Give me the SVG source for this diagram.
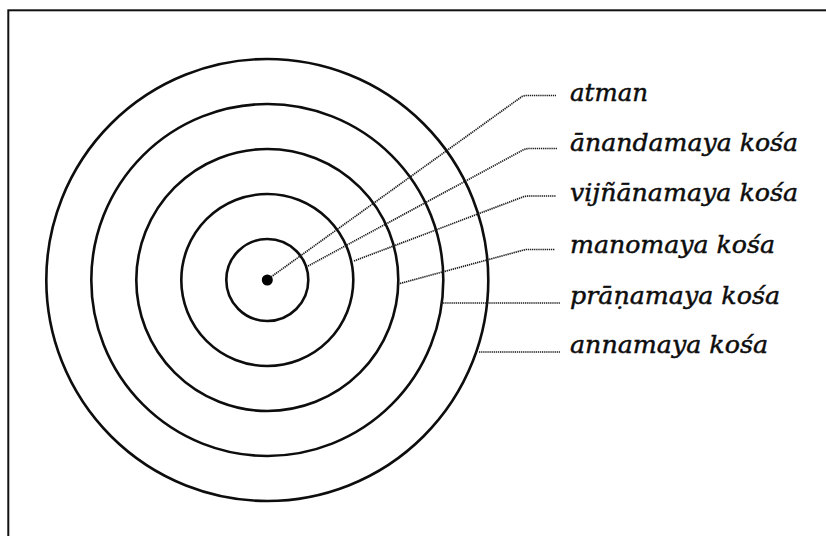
<svg xmlns="http://www.w3.org/2000/svg" width="826" height="536" viewBox="0 0 826 536">
  <style>
    .ring { fill: none; stroke: #0d0d0d; stroke-width: 2.6; }
    .lead { fill: none; stroke: #1a1a1a; stroke-width: 1.7; stroke-dasharray: 1.3 0.8; }
    .lbl { font-family: "DejaVu Serif", "Liberation Serif", serif; font-style: italic; font-size: 24px; fill: #0d0d0d; stroke: #0d0d0d; stroke-width: 0.45; }
  </style>
  <rect x="0" y="0" width="826" height="536" fill="#ffffff"/>
  <rect x="8.3" y="10.3" width="900" height="600" fill="none" stroke="#111" stroke-width="2"/>

  <g id="annamaya"><circle class="ring" cx="267.3" cy="280" r="221"/></g>
  <g id="pranamaya"><circle class="ring" cx="267.3" cy="280" r="176"/></g>
  <g id="vijnanamaya"><circle class="ring" cx="267.3" cy="280" r="131"/></g>
  <g id="manomaya"><circle class="ring" cx="267.3" cy="280" r="86"/></g>
  <g id="anandamaya"><circle class="ring" cx="267.3" cy="280" r="41"/></g>
  <g id="atman"><circle cx="267.3" cy="280" r="5.5" fill="#000"/></g>

  <g id="connectors">
    <path class="lead" d="M271,277 L522,96.5 L525,95.5 L556,95.5"/>
    <path class="lead" d="M308,266 L524,149.5 L528,148.5 L557,148.5"/>
    <path class="lead" d="M354,261 L524,196.5 L528,196 L556,196"/>
    <path class="lead" d="M398,284 L522,250.5 L526,249.5 L555,249.5"/>
    <path class="lead" d="M441,303 L560,303"/>
    <path class="lead" d="M479,352 L560,352"/>
  </g>

  <g id="labels">
    <text class="lbl" x="570" y="101" textLength="78" lengthAdjust="spacingAndGlyphs">atman</text>
    <text class="lbl" x="570" y="151" textLength="228" lengthAdjust="spacingAndGlyphs">ānandamaya kośa</text>
    <text class="lbl" x="570" y="201" textLength="228" lengthAdjust="spacingAndGlyphs">vijñānamaya kośa</text>
    <text class="lbl" x="570" y="252.5" textLength="205" lengthAdjust="spacingAndGlyphs">manomaya kośa</text>
    <text class="lbl" x="570" y="303.5" textLength="210" lengthAdjust="spacingAndGlyphs">prāṇamaya kośa</text>
    <text class="lbl" x="570" y="353" textLength="198" lengthAdjust="spacingAndGlyphs">annamaya kośa</text>
  </g>
</svg>
